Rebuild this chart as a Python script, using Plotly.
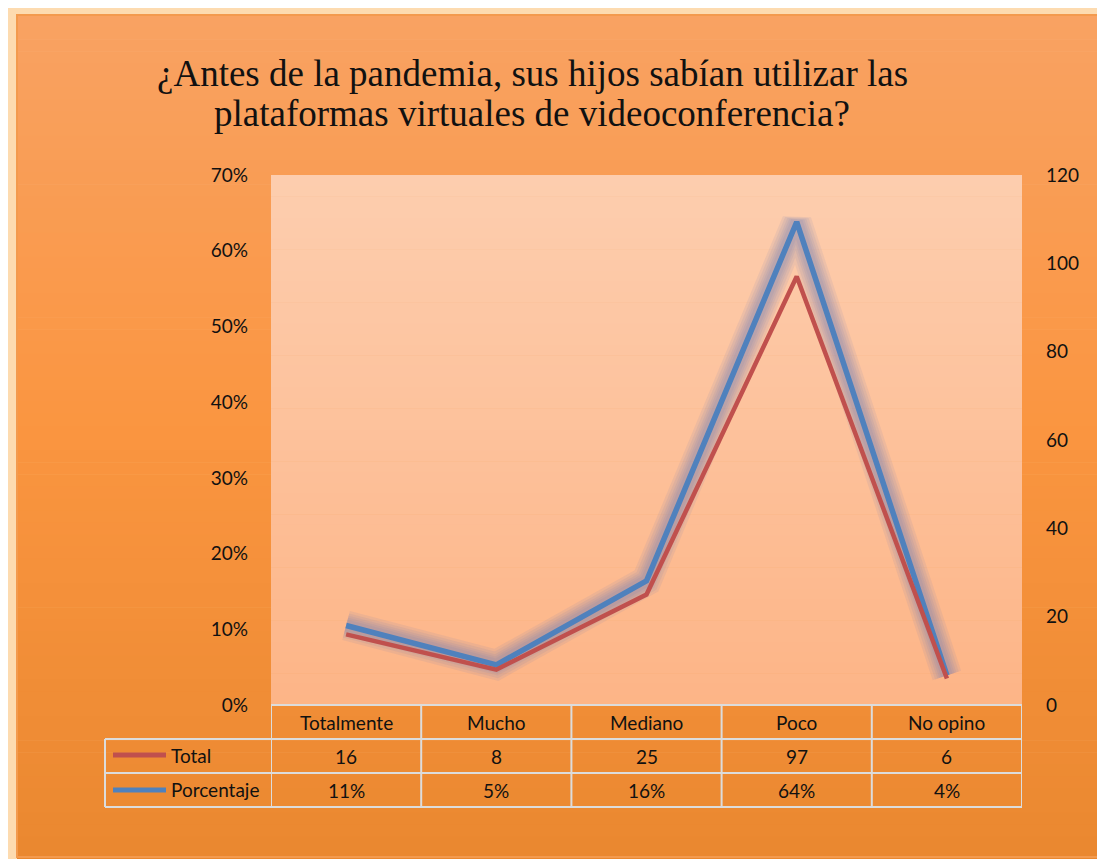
import plotly.graph_objects as go

# ---- data ----
categories = ["Totalmente", "Mucho", "Mediano", "Poco", "No opino"]
total = [16, 8, 25, 97, 6]
porcentaje = [0.105, 0.053, 0.164, 0.638, 0.039]
porcentaje_labels = ["11%", "5%", "16%", "64%", "4%"]
title_lines = ["¿Antes de la pandemia, sus hijos sabían utilizar las",
               "plataformas virtuales de videoconferencia?"]

W, H = 1105, 859
OFF = 8  # page body margin
L, R, T, B = 271, 1022, 175, 705  # plot area in screen pixels


def xp(px):
    return (px - L) / (R - L)


def yp(py):
    return (B - py) / (B - T)


def lerp_color(c1, c2, t):
    a = [int(c1[i:i + 2], 16) for i in (1, 3, 5)]
    b = [int(c2[i:i + 2], 16) for i in (1, 3, 5)]
    return "rgb(%d,%d,%d)" % tuple(round(a[k] + (b[k] - a[k]) * t) for k in range(3))


def grad3(c1, c2, c3, t):
    return lerp_color(c1, c2, t * 2) if t < 0.5 else lerp_color(c2, c3, (t - 0.5) * 2)


shapes = []
# outer frame background gradient
fx0, fy0, fx1, fy1 = 17, 15, W + 20, H + 2
n = 70
for i in range(n):
    y0 = fy0 + (fy1 - fy0) * i / n
    y1 = fy0 + (fy1 - fy0) * (i + 1) / n + 0.6
    shapes.append(dict(type="rect", xref="paper", yref="paper", layer="below",
                       x0=xp(fx0), x1=xp(fx1), y0=yp(y0), y1=yp(y1),
                       fillcolor=grad3("#F9A262", "#FA9540", "#EA8830", i / (n - 1)),
                       line=dict(width=0)))
# frame border
shapes.append(dict(type="rect", xref="paper", yref="paper", layer="below",
                   x0=xp(fx0), x1=xp(fx1), y0=yp(fy0), y1=yp(H - 2),
                   fillcolor="rgba(0,0,0,0)", line=dict(color="#F39A4E", width=2)))
# plot area gradient
n2 = 50
for i in range(n2):
    y0 = T + (B - T) * i / n2
    y1 = T + (B - T) * (i + 1) / n2 + 0.6
    shapes.append(dict(type="rect", xref="paper", yref="paper", layer="below",
                       x0=0, x1=1, y0=yp(y0), y1=yp(min(y1, B)),
                       fillcolor=lerp_color("#FDCDAE", "#FDB587", i / (n2 - 1)),
                       line=dict(width=0)))

# table lines
tcol = "#DCDCDC"
row_y = [705, 739, 773, 807]
for k, y in enumerate(row_y):
    x0 = L if k == 0 else 105
    shapes.append(dict(type="line", xref="paper", yref="paper", x0=xp(x0), x1=1,
                       y0=yp(y), y1=yp(y), line=dict(color=tcol, width=2)))
for j in range(len(categories) + 1):
    shapes.append(dict(type="line", xref="x", yref="paper", x0=j - 0.5, x1=j - 0.5,
                       y0=yp(705), y1=yp(807), line=dict(color=tcol, width=2)))
shapes.append(dict(type="line", xref="paper", yref="paper", x0=xp(105), x1=xp(105),
                   y0=yp(739), y1=yp(807), line=dict(color=tcol, width=2)))
# legend keys
shapes.append(dict(type="line", xref="paper", yref="paper", x0=xp(113), x1=xp(166),
                   y0=yp(755), y1=yp(755), line=dict(color="#C0504D", width=5)))
shapes.append(dict(type="line", xref="paper", yref="paper", x0=xp(113), x1=xp(166),
                   y0=yp(790), y1=yp(790), line=dict(color="#4F81BD", width=5)))

fig = go.Figure()
fig.add_trace(go.Scatter(x=categories, y=total, yaxis="y2", mode="lines", name="Total",
                         line=dict(color="#C0504D", width=4.5), showlegend=False))
# soft blue glow (stacked translucent strokes)
for w in (30, 25, 20, 16, 12):
    fig.add_trace(go.Scatter(x=categories, y=porcentaje, mode="lines",
                             line=dict(color="rgba(95,120,185,0.10)", width=w),
                             hoverinfo="skip", showlegend=False))
fig.add_trace(go.Scatter(x=categories, y=porcentaje, mode="lines", name="Porcentaje",
                         line=dict(color="#4F81BD", width=5.5), showlegend=False))

font = "Lato, 'Open Sans', sans-serif"
fs = 19
tc = "#111111"
ann = []
for j, c in enumerate(categories):
    ann.append(dict(x=c, xref="x", y=yp(722), yref="paper", yanchor="middle", text=c,
                    showarrow=False, font=dict(size=fs, color=tc, family=font)))
    ann.append(dict(x=c, xref="x", y=yp(756), yref="paper", yanchor="middle",
                    text=str(total[j]), showarrow=False,
                    font=dict(size=fs, color=tc, family=font)))
    ann.append(dict(x=c, xref="x", y=yp(790), yref="paper", yanchor="middle",
                    text=porcentaje_labels[j], showarrow=False,
                    font=dict(size=fs, color=tc, family=font)))
ann.append(dict(x=xp(169), xref="paper", y=yp(755), yref="paper", yanchor="middle",
                text="Total", xanchor="left", showarrow=False,
                font=dict(size=fs, color=tc, family=font)))
ann.append(dict(x=xp(169), xref="paper", y=yp(789), yref="paper", yanchor="middle",
                text="Porcentaje", xanchor="left", showarrow=False,
                font=dict(size=fs, color=tc, family=font)))
serif = "'Liberation Serif', 'Times New Roman', serif"
ann.append(dict(x=xp(532), xref="paper", y=yp(74), yref="paper", yanchor="middle",
                text=title_lines[0], showarrow=False,
                font=dict(size=37, color=tc, family=serif)))
ann.append(dict(x=xp(532), xref="paper", y=yp(113), yref="paper", yanchor="middle",
                text=title_lines[1], showarrow=False,
                font=dict(size=37, color=tc, family=serif)))

fig.update_layout(
    width=W, height=H,
    margin=dict(l=L - OFF, r=W - R + OFF, t=T - OFF, b=H - B + OFF, pad=0),
    paper_bgcolor="#FDDBB0",
    plot_bgcolor="rgba(0,0,0,0)",
    shapes=shapes,
    annotations=ann,
    showlegend=False,
    xaxis=dict(type="category", range=[-0.5, len(categories) - 0.5], showticklabels=False,
               showgrid=False, zeroline=False, showline=False, ticks=""),
    yaxis=dict(range=[0, 0.7], dtick=0.1, tickformat=".0%", showgrid=False,
               zeroline=False, showline=False, ticks="", ticklabelstandoff=22,
               tickfont=dict(size=fs, color=tc, family=font)),
    yaxis2=dict(range=[0, 120], dtick=20, overlaying="y", side="right", showgrid=False,
                zeroline=False, showline=False, ticks="", ticklabelstandoff=23,
                tickfont=dict(size=fs, color=tc, family=font)),
)

fig.write_html("out.html")
